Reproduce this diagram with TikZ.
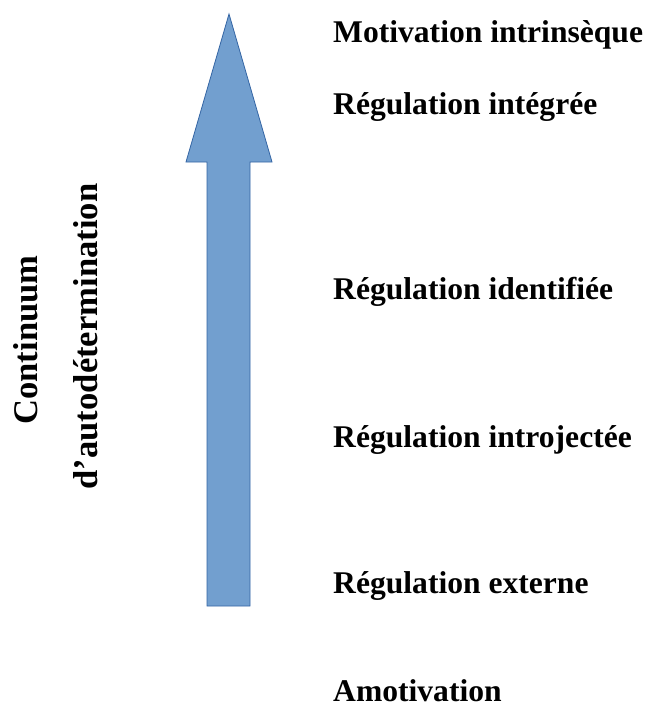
\documentclass[tikz,border=0pt]{standalone}
\usepackage{fontspec}
\setmainfont{Liberation Serif}
\definecolor{arrowfill}{RGB}{114,159,207}
\definecolor{arrowline}{RGB}{52,101,164}
\begin{document}
\begin{tikzpicture}[x=1pt,y=-1pt,
  lbl/.style={anchor=base west,inner sep=0pt,font=\fontsize{31.6}{36}\selectfont\bfseries},
  vlbl/.style={anchor=base,rotate=90,inner sep=0pt,font=\fontsize{34.6}{40}\selectfont\bfseries}]
\useasboundingbox (0,0) rectangle (649,704);
\draw[fill=arrowfill,draw=arrowline,line width=0.8pt,line join=miter]
  (229,14) -- (272,162) -- (250,162) -- (250,606) -- (207,606) -- (207,162) -- (186,162) -- cycle;
\node[lbl] (mi) at (333,42) {Motivation intrinsèque};
\node[lbl] (ri) at (333,114) {Régulation intégrée};
\node[lbl] (rid) at (333,299) {Régulation identifiée};
\node[lbl] (rin) at (333,447) {Régulation introjectée};
\node[lbl] (re) at (333,593) {Régulation externe};
\node[lbl] (am) at (333,701) {Amotivation};
\node[vlbl] (c1) at (37,340) {Continuum};
\node[vlbl] (c2) at (97,336.5) {d’autodétermination};
\end{tikzpicture}
\end{document}
